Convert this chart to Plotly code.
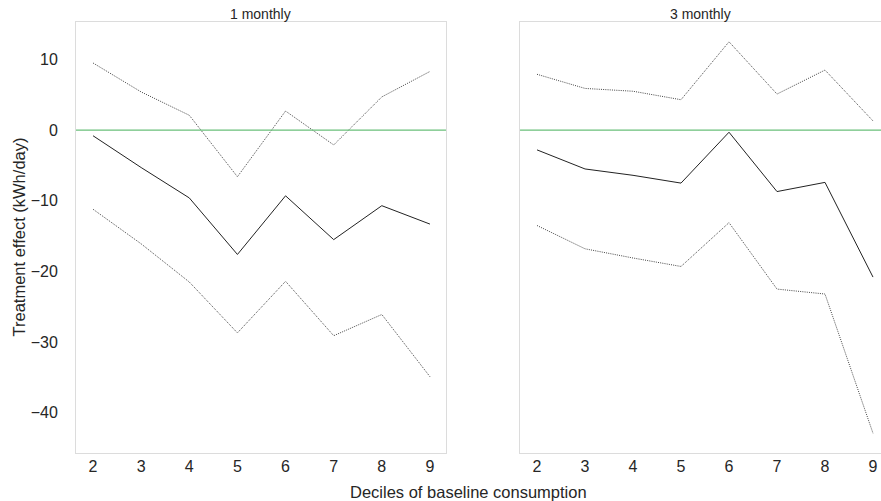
import plotly.graph_objects as go

deciles = [2, 3, 4, 5, 6, 7, 8, 9]

m1_upper = [9.5, 5.4, 2.1, -6.6, 2.7, -2.1, 4.7, 8.3]
m1_est = [-0.8, -5.3, -9.6, -17.6, -9.3, -15.5, -10.7, -13.3]
m1_lower = [-11.2, -16.1, -21.5, -28.7, -21.4, -29.1, -26.1, -34.9]

m3_upper = [7.9, 5.9, 5.5, 4.3, 12.5, 5.1, 8.5, 1.3]
m3_est = [-2.8, -5.5, -6.4, -7.5, -0.3, -8.7, -7.4, -20.8]
m3_lower = [-13.5, -16.8, -18.1, -19.3, -13.1, -22.5, -23.2, -42.9]

panel_titles = ["1 monthly", "3 monthly"]
y_ticks = [10, 0, -10, -20, -30, -40]
y_tick_text = ["10", "0", "\u221210", "\u221220", "\u221230", "\u221240"]

FONT = "Liberation Sans, Arial, sans-serif"
TXT = "#262626"
FRAME = "#dcdcdc"

fig = go.Figure()

panels = [("x", "y", m1_upper, m1_est, m1_lower), ("x2", "y2", m3_upper, m3_est, m3_lower)]
for xa, ya, up, est, lo in panels:
    fig.add_trace(go.Scatter(x=deciles, y=up, mode="lines", xaxis=xa, yaxis=ya,
                             line=dict(color="#444444", width=1, dash="1px,1.2px"), showlegend=False))
    fig.add_trace(go.Scatter(x=deciles, y=est, mode="lines", xaxis=xa, yaxis=ya,
                             line=dict(color="#222222", width=1), showlegend=False))
    fig.add_trace(go.Scatter(x=deciles, y=lo, mode="lines", xaxis=xa, yaxis=ya,
                             line=dict(color="#444444", width=1, dash="1px,1.2px"), showlegend=False))

yrange = [-45.7, 15.3]
common_x = dict(tickmode="array", tickvals=deciles, ticktext=[str(d) for d in deciles],
                showgrid=False, zeroline=False, showline=True, linecolor=FRAME, linewidth=1,
                ticks="", tickfont=dict(family=FONT, size=16, color=TXT), ticklabelstandoff=-1)
common_y = dict(range=yrange, showgrid=False, zeroline=False, showline=True, linecolor=FRAME,
                linewidth=1, ticks="")

fig.update_layout(
    width=881, height=501,
    margin=dict(l=76, r=0, t=22, b=48),
    paper_bgcolor="white", plot_bgcolor="white",
    xaxis=dict(domain=[0, 0.4596], range=[1.646, 9.333], mirror=True, anchor="y", **common_x),
    xaxis2=dict(domain=[0.5516, 1.0], range=[1.646, 9.167], mirror=True, anchor="y2", **common_x),
    yaxis=dict(anchor="x", mirror=True, tickmode="array", tickvals=y_ticks, ticktext=y_tick_text,
               tickfont=dict(family=FONT, size=16, color=TXT), ticklabelstandoff=14, **common_y),
    yaxis2=dict(anchor="x2", matches="y", showticklabels=False, **common_y),
)

# zero reference lines
for xr, yr in [("x domain", "y"), ("x2 domain", "y2")]:
    fig.add_shape(type="line", xref=xr, yref=yr, x0=0, x1=1, y0=0, y1=0,
                  line=dict(color="#6abf7a", width=1.2), layer="above")

# panel titles
for xr, title in [("x domain", panel_titles[0]), ("x2 domain", panel_titles[1])]:
    fig.add_annotation(xref=xr, yref="paper", x=0.5, y=1.0, yanchor="middle", yshift=8,
                       text=title, showarrow=False, font=dict(family=FONT, size=14, color=TXT))

fig.add_annotation(xref="paper", yref="paper", x=0.4876, y=0, yshift=-39, yanchor="middle",
                   xanchor="center",
                   text="Deciles of baseline consumption", showarrow=False,
                   font=dict(family=FONT, size=16.5, color=TXT))
fig.add_annotation(xref="paper", yref="paper", x=0, xshift=-58, y=0.5, textangle=-90,
                   xanchor="center", yanchor="middle",
                   text="Treatment effect (kWh/day)", showarrow=False,
                   font=dict(family=FONT, size=16.5, color=TXT))

fig.write_html("out.html", config={"displayModeBar": False},
               post_script="document.body.style.margin='0';")
